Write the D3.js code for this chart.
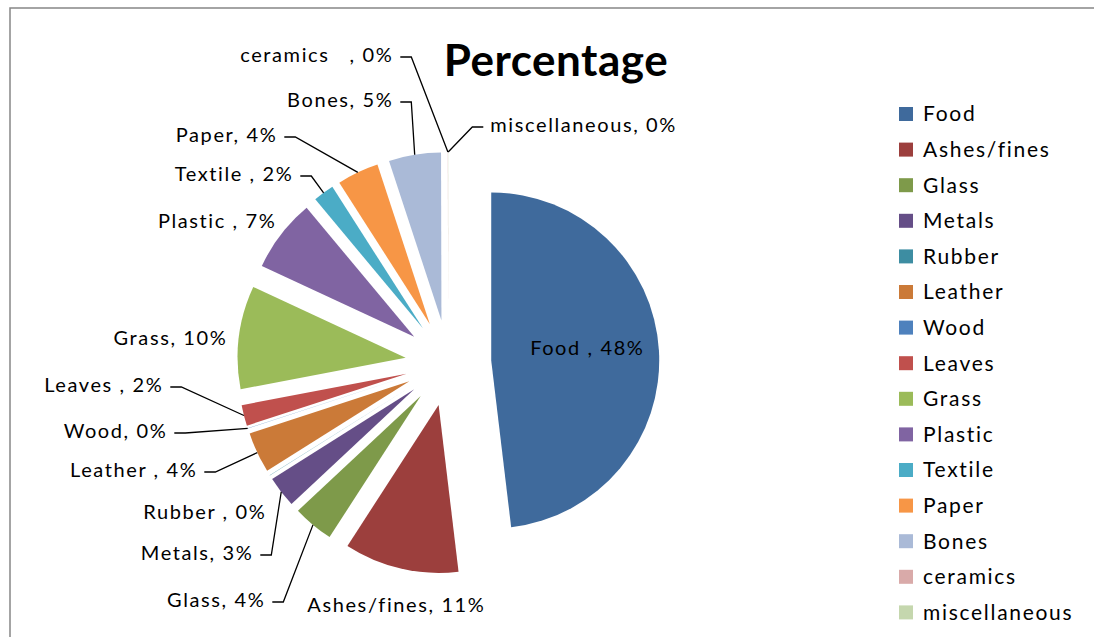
<!DOCTYPE html>
<html>
<head>
<meta charset="utf-8">
<script src="https://cdn.jsdelivr.net/npm/d3@7"></script>
<style>
  html, body { margin: 0; padding: 0; background: #fff; }
  svg { display: block; }
  text { font-family: Lato, "Open Sans", sans-serif; fill: #000; white-space: pre; }
</style>
</head>
<body>
<svg id="chart" width="1094" height="637"></svg>
<script>
// Waste composition (share of total, %)
const categories = ["Food ", "Ashes/fines", "Glass", "Metals", "Rubber ", "Leather ", "Wood",
                    "Leaves ", "Grass", "Plastic ", "Textile ", "Paper", "Bones", "ceramics   ", "miscellaneous"];
const shares = [48.0, 11.0, 3.9, 3.0, 0.02, 3.9, 0.02, 2.0, 9.9, 7.0, 2.0, 4.0, 5.0, 0.02, 0.02];
const sliceColors = ["#3f6a9c", "#9c3f3d", "#7e9a4a", "#654e87", "#3d8da2", "#cb7a38", "#4e81bd",
                     "#c0504d", "#9bbb59", "#8064a2", "#4bacc6", "#f79646", "#aabad7", "#d9aaa9", "#c5d7ae"];

// Data-label placement relative to the pie centre: anchor, offset, leader line on/off
const labelLayout = [
  { anchor: "middle", dx: 139,  dy: -15,  leader: false },  // Food
  { anchor: "start",  dx: -141, dy: 242,  leader: false },  // Ashes/fines
  { anchor: "end",    dx: -183, dy: 237,  leader: true  },  // Glass
  { anchor: "end",    dx: -195, dy: 190,  leader: true  },  // Metals
  { anchor: "end",    dx: -182, dy: 149,  leader: false },  // Rubber
  { anchor: "end",    dx: -251, dy: 107,  leader: true  },  // Leather
  { anchor: "end",    dx: -281, dy: 68,   leader: true  },  // Wood
  { anchor: "end",    dx: -285, dy: 22,   leader: true  },  // Leaves
  { anchor: "end",    dx: -221, dy: -25,  leader: false },  // Grass
  { anchor: "end",    dx: -172, dy: -142, leader: false },  // Plastic
  { anchor: "end",    dx: -155, dy: -189, leader: true  },  // Textile
  { anchor: "end",    dx: -171, dy: -228, leader: true  },  // Paper
  { anchor: "end",    dx: -55,  dy: -263, leader: true  },  // Bones
  { anchor: "end",    dx: -55,  dy: -308, leader: true  },  // ceramics
  { anchor: "start",  dx: 42,   dy: -238, leader: true  }   // miscellaneous
];

const W = 1094, H = 637;
const cx = 448.3, cy = 363;      // pie centre
const radius = 168;              // slice radius
const explode = 43;              // outward shift of every slice

const svg = d3.select("#chart");

// chart frame
svg.append("path")
  .attr("d", `M10,${H} L10,8 L${W},8`)
  .attr("fill", "none")
  .attr("stroke", "#868686")
  .attr("stroke-width", 1.5);

// title
svg.append("text")
  .attr("x", 556).attr("y", 76)
  .attr("text-anchor", "middle")
  .style("font-size", "44px")
  .style("font-weight", "bold")
  .style("letter-spacing", "0.5px")
  .text("Percentage");

const total = d3.sum(shares);
const data = categories.map((c, i) => ({ name: c, value: shares[i], color: sliceColors[i], layout: labelLayout[i] }));

const pie = d3.pie().sort(null).value(d => d.value).startAngle(0).endAngle(2 * Math.PI);
const arcs = pie(data);
const arc = d3.arc().innerRadius(0).outerRadius(radius);

// unit vector (screen coords) at angle a measured clockwise from 12 o'clock
const dir = a => [Math.sin(a), -Math.cos(a)];

const g = svg.append("g").attr("transform", `translate(${cx},${cy})`);

g.selectAll("path.slice")
  .data(arcs)
  .join("path")
  .attr("class", "slice")
  .attr("d", arc)
  .attr("fill", d => d.data.color)
  .attr("transform", d => {
    const [ux, uy] = dir((d.startAngle + d.endAngle) / 2);
    return `translate(${ux * explode},${uy * explode})`;
  });

const pct = v => Math.round(v / total * 100) + "%";
const labelText = d => d.data.name + ", " + pct(d.data.value);

// leader lines: short horizontal stub at the label, then straight to the slice rim
const gap = 7, stub = 11;
g.selectAll("polyline.leader")
  .data(arcs.filter(d => d.data.layout.leader))
  .join("polyline")
  .attr("class", "leader")
  .attr("fill", "none")
  .attr("stroke", "#000")
  .attr("stroke-width", 1.3)
  .attr("points", d => {
    const L = d.data.layout;
    const mid = (d.startAngle + d.endAngle) / 2;
    const [ux, uy] = dir(mid);
    const tx = ux * (explode + radius), ty = uy * (explode + radius);
    const s = L.anchor === "start" ? -1 : 1;
    const x0 = L.dx + s * gap, x1 = L.dx + s * (gap + stub), y0 = L.dy + 2;
    return [[x0, y0], [x1, y0], [tx, ty]].map(p => p.join(",")).join(" ");
  });

g.selectAll("text.label")
  .data(arcs)
  .join("text")
  .attr("class", "label")
  .attr("x", d => d.data.layout.dx)
  .attr("y", d => d.data.layout.dy)
  .attr("dy", "0.35em")
  .attr("text-anchor", d => d.data.layout.anchor)
  .style("font-size", "20px")
  .style("letter-spacing", "1.6px")
  .text(labelText);

// legend
const legend = svg.append("g").attr("transform", "translate(899,107)");
const step = 35.6;
const rows = legend.selectAll("g.row")
  .data(data)
  .join("g")
  .attr("class", "row")
  .attr("transform", (d, i) => `translate(0,${i * step})`);
rows.append("rect")
  .attr("width", 14).attr("height", 14)
  .attr("fill", d => d.color);
rows.append("text")
  .attr("x", 24).attr("y", 7)
  .attr("dy", "0.35em")
  .style("font-size", "21px")
  .style("letter-spacing", "1.7px")
  .text(d => d.name.trim());
</script>
</body>
</html>
